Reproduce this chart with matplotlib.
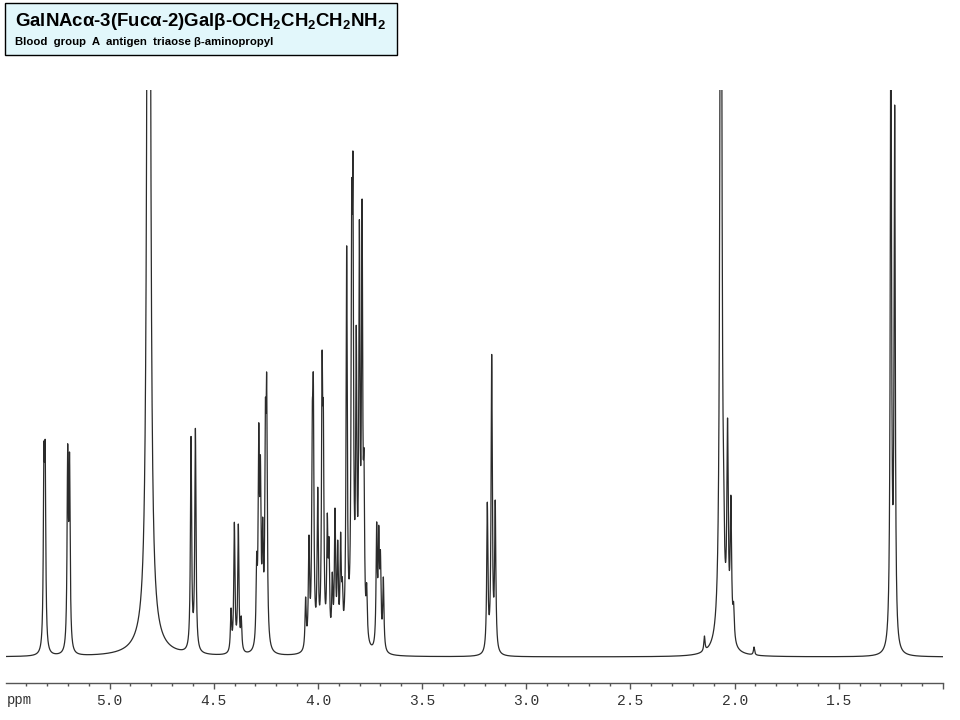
import numpy as np
import matplotlib
matplotlib.use("Agg")
import matplotlib.pyplot as plt
from matplotlib.patches import Rectangle
from matplotlib.ticker import MultipleLocator, FixedLocator

plt.rcParams['mathtext.fontset'] = 'custom'
plt.rcParams['mathtext.rm'] = 'Liberation Sans:bold'
plt.rcParams['mathtext.it'] = 'Liberation Sans:bold'
plt.rcParams['mathtext.bf'] = 'Liberation Sans:bold'
plt.rcParams['mathtext.default'] = 'rm'

########################################
# peak list
# line position (ppm) and height of the trace at that position (pixel row of the top)

peak_ppm = [5.315, 5.309, 5.201, 5.192,
            4.812,
            4.609, 4.588,
            4.417, 4.401, 4.382, 4.368,
            4.294, 4.284, 4.276, 4.265, 4.252, 4.246,
            4.059, 4.043, 4.027, 4.022, 4.001, 3.980, 3.974, 3.955, 3.947,
            3.931, 3.918, 3.905, 3.891, 3.883, 3.862, 3.838, 3.832, 3.816,
            3.801, 3.788, 3.779, 3.766,
            3.718, 3.708, 3.700, 3.686,
            3.187, 3.166, 3.149,
            2.145,
            2.066, 2.053, 2.034, 2.018, 2.005,
            1.907,
            1.250, 1.232]

peak_top = [443, 441, 444, 452,
            -1450,
            436, 428,
            608, 522, 524, 616,
            552, 423, 455, 517, 400, 374,
            597, 535, 405, 375, 487, 351, 402, 513, 537,
            572, 508, 540, 532, 577, 245, 183, 154, 325,
            219, 199, 450, 583,
            522, 525, 550, 577,
            502, 354, 500,
            636,
            -450, 460, 418, 495, 602,
            647,
            -60, 105]

peak_hwhm = [0.0034] * len(peak_ppm)
peak_hwhm[4] = 0.0058    # water line is broader
peak_hwhm[47] = 0.0048   # acetyl singlet
for k in range(48, 52):  # CH2 quintet
    peak_hwhm[k] = 0.0040

# broad unresolved components (ppm, height px, hwhm ppm)
broad_ppm = [4.812, 2.066]
broad_height = [15, 8]
broad_hwhm = [0.07, 0.04]

BASELINE_Y = 657  # pixel row of the flat baseline

########################################


def lorentz(x, x0, w):
    return 1.0 / (1.0 + ((x - x0) / w) ** 2)


pos = np.array(peak_ppm)
wid = np.array(peak_hwhm)
target = BASELINE_Y - np.array(peak_top, dtype=float)

broad_at_peaks = np.zeros_like(pos)
for p, h, w in zip(broad_ppm, broad_height, broad_hwhm):
    broad_at_peaks += h * lorentz(pos, p, w)

A = lorentz(pos[:, None], pos[None, :], wid[None, :])
amps = np.linalg.solve(A, target - broad_at_peaks)
amps = np.clip(amps, 0, None)

ppm = np.linspace(5.497, 1.0, 12000)
spec = np.zeros_like(ppm)
for p, a, w in zip(pos, amps, wid):
    spec += a * lorentz(ppm, p, w)
for p, h, w in zip(broad_ppm, broad_height, broad_hwhm):
    spec += h * lorentz(ppm, p, w)

W, H = 960, 720
fig = plt.figure(figsize=(W / 100, H / 100), dpi=100)
ax_left, ax_right, ax_top, ax_bottom = 6, 943, 90, 682.5
ax = fig.add_axes([ax_left / W, 1 - ax_bottom / H,
                   (ax_right - ax_left) / W, (ax_bottom - ax_top) / H])
ax.plot(ppm, spec, color='#2b2b2b', lw=0.9)
ax.set_xlim(5.497, 1.0)
ax.set_ylim(-(ax_bottom - BASELINE_Y), BASELINE_Y - ax_top)

for s in ['top', 'left', 'right']:
    ax.spines[s].set_visible(False)
ax.spines['bottom'].set_color('#555555')
ax.spines['bottom'].set_linewidth(1.0)
ax.set_yticks([])
ax.xaxis.set_major_locator(FixedLocator([5.0, 4.5, 4.0, 3.5, 3.0, 2.5, 2.0, 1.5, 1.0]))
ax.xaxis.set_minor_locator(MultipleLocator(0.1))
ax.set_xticklabels(['5.0', '4.5', '4.0', '3.5', '3.0', '2.5', '2.0', '1.5', ''])
ax.tick_params(axis='x', which='major', direction='out', length=4.5, width=1,
               color='#555555', pad=4, labelsize=10.5, labelcolor='#333333')
ax.tick_params(axis='x', which='minor', direction='out', length=2.5, width=1,
               color='#555555')
for lab in ax.get_xticklabels():
    lab.set_fontfamily('Liberation Mono')

fig.text(7 / W, 1 - 700 / H, 'ppm', fontsize=10, family='Liberation Mono',
         color='#333333', va='center', ha='left')

# title box
fig.patches.append(Rectangle((5 / W, 1 - 55 / H), 392 / W, 52 / H,
                             transform=fig.transFigure, facecolor='#e2f7fb',
                             edgecolor='black', lw=1))
fig.text(15 / W, 1 - 21 / H,
         'GalNAcα-3(Fucα-2)Galβ-OCH$_2$CH$_2$CH$_2$NH$_2$',
         fontsize=13.4, family='Liberation Sans', weight='bold', va='center')
fig.text(15 / W, 1 - 42 / H, 'Blood  group  A  antigen  triaose β-aminopropyl',
         fontsize=8.2, family='Liberation Sans', weight='bold', va='center')

fig.savefig('out.png', dpi=100)
